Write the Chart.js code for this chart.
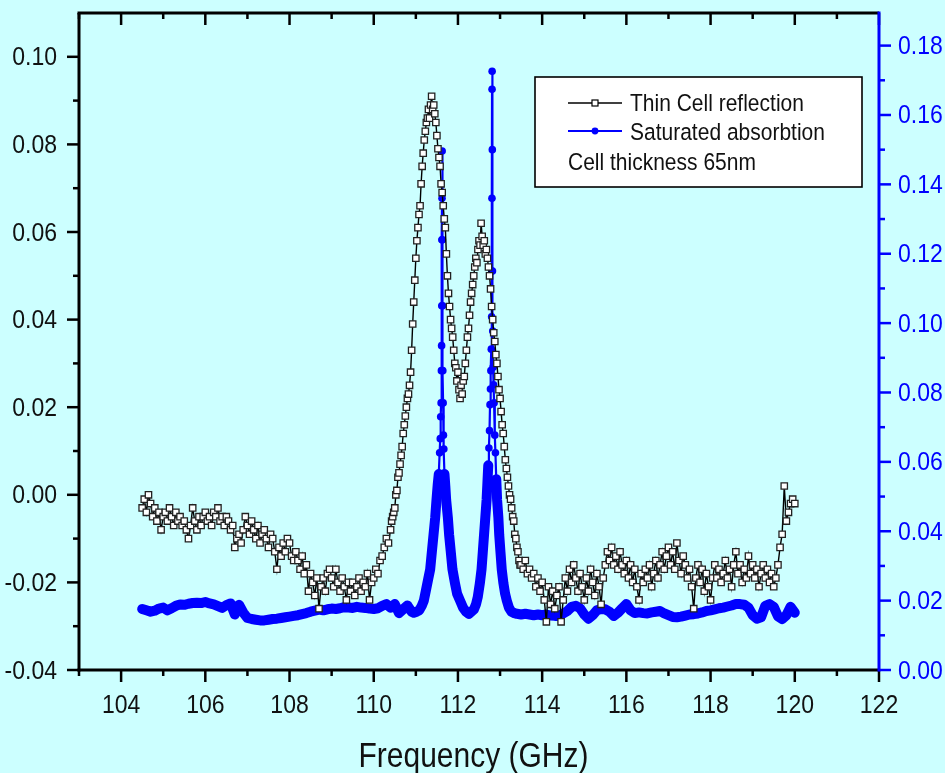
<!DOCTYPE html>
<html>
<head>
<meta charset="utf-8">
<script src="https://cdn.jsdelivr.net/npm/chart.js@4.4.1/dist/chart.umd.min.js"></script>
<style>
  html, body { margin: 0; padding: 0; background: #ccffff; }
  canvas { display: block; }
</style>
</head>
<body>
<canvas id="chart" width="945" height="773"></canvas>
<script>
// Thin cell reflection (left axis)
const reflFreq = [
  104.50,104.55,104.60,104.65,104.70,104.75,104.80,104.85,104.90,104.95,
  105.00,105.05,105.10,105.15,105.20,105.25,105.30,105.35,105.40,105.45,
  105.50,105.55,105.60,105.65,105.70,105.75,105.80,105.85,105.90,105.95,
  106.00,106.05,106.10,106.15,106.20,106.25,106.30,106.35,106.40,106.45,
  106.50,106.55,106.60,106.65,106.70,106.75,106.80,106.85,106.90,106.95,
  107.00,107.05,107.10,107.15,107.20,107.25,107.30,107.35,107.40,107.45,
  107.50,107.55,107.60,107.65,107.70,107.75,107.80,107.85,107.90,107.95,
  108.00,108.05,108.10,108.15,108.20,108.25,108.30,108.35,108.40,108.45,
  108.50,108.55,108.60,108.65,108.70,108.75,108.80,108.85,108.90,108.95,
  109.00,109.05,109.10,109.15,109.20,109.25,109.30,109.35,109.40,109.45,
  109.50,109.55,109.60,109.65,109.70,109.75,109.80,109.85,109.90,109.95,
  110.00,110.05,110.10,110.15,110.20,110.25,110.30,110.35,
  110.400,110.425,110.450,110.475,110.500,110.525,110.550,110.575,110.600,110.625,
  110.650,110.675,110.700,110.725,110.750,110.775,110.800,110.825,110.850,110.875,
  110.900,110.925,110.950,110.975,111.000,111.025,111.050,111.075,111.100,111.125,
  111.150,111.175,111.200,111.225,111.250,111.275,111.300,111.325,111.350,111.375,
  111.400,111.425,111.450,111.475,111.500,111.525,111.550,111.575,111.600,111.625,
  111.650,111.675,111.700,111.725,111.750,111.775,111.800,111.825,111.850,111.875,
  111.900,111.925,111.950,111.975,112.000,112.025,112.050,112.075,112.100,112.125,
  112.150,112.175,112.200,112.225,112.250,112.275,112.300,112.325,112.350,112.375,
  112.400,112.425,112.450,112.475,112.500,112.525,112.550,112.575,112.600,112.625,
  112.650,112.675,112.700,112.725,112.750,112.775,112.800,112.825,112.850,112.875,
  112.900,112.925,112.950,112.975,113.000,113.025,113.050,113.075,113.100,113.125,
  113.150,113.175,113.200,113.225,113.250,113.275,113.300,113.325,113.350,113.375,
  113.400,113.425,113.450,113.475,
  113.50,113.55,113.60,113.65,113.70,113.75,113.80,113.85,113.90,113.95,
  114.00,114.05,114.10,114.15,114.20,114.25,114.30,114.35,114.40,114.45,
  114.50,114.55,114.60,114.65,114.70,114.75,114.80,114.85,114.90,114.95,
  115.00,115.05,115.10,115.15,115.20,115.25,115.30,115.35,115.40,115.45,
  115.50,115.55,115.60,115.65,115.70,115.75,115.80,115.85,115.90,115.95,
  116.00,116.05,116.10,116.15,116.20,116.25,116.30,116.35,116.40,116.45,
  116.50,116.55,116.60,116.65,116.70,116.75,116.80,116.85,116.90,116.95,
  117.00,117.05,117.10,117.15,117.20,117.25,117.30,117.35,117.40,117.45,
  117.50,117.55,117.60,117.65,117.70,117.75,117.80,117.85,117.90,117.95,
  118.00,118.05,118.10,118.15,118.20,118.25,118.30,118.35,118.40,118.45,
  118.50,118.55,118.60,118.65,118.70,118.75,118.80,118.85,118.90,118.95,
  119.00,119.05,119.10,119.15,119.20,119.25,119.30,119.35,119.40,119.45,
  119.50,119.55,119.60,119.65,119.70,119.75,119.80,119.85,119.90,119.95,
  120.00
];
const reflValue = [
  -0.003,-0.001,-0.004,0.000,-0.002,-0.005,-0.003,-0.006,-0.004,-0.008,
  -0.005,-0.004,-0.006,-0.003,-0.005,-0.007,-0.004,-0.006,-0.005,-0.007,
  -0.006,-0.008,-0.010,-0.007,-0.003,-0.006,-0.008,-0.005,-0.007,-0.005,
  -0.004,-0.006,-0.005,-0.007,-0.004,-0.005,-0.003,-0.006,-0.005,-0.007,
  -0.005,-0.006,-0.008,-0.007,-0.012,-0.010,-0.009,-0.011,-0.008,-0.005,
  -0.007,-0.009,-0.006,-0.008,-0.010,-0.007,-0.011,-0.009,-0.008,-0.010,
  -0.012,-0.009,-0.010,-0.013,-0.017,-0.012,-0.014,-0.011,-0.013,-0.010,
  -0.011,-0.014,-0.015,-0.013,-0.015,-0.017,-0.014,-0.018,-0.016,-0.022,
  -0.018,-0.020,-0.023,-0.019,-0.026,-0.021,-0.019,-0.022,-0.018,-0.017,
  -0.019,-0.021,-0.017,-0.020,-0.022,-0.019,-0.021,-0.024,-0.020,-0.022,
  -0.020,-0.023,-0.021,-0.019,-0.022,-0.020,-0.021,-0.018,-0.024,-0.020,
  -0.019,-0.017,-0.018,-0.015,-0.014,-0.012,-0.010,-0.011,
  -0.008,-0.006,-0.005,-0.004,-0.003,0.000,0.001,0.004,0.005,0.007,
  0.009,0.011,0.014,0.016,0.018,0.020,0.022,0.023,0.025,0.028,
  0.033,0.039,0.044,0.049,0.054,0.058,0.061,0.064,0.066,0.071,
  0.075,0.078,0.081,0.083,0.085,0.086,0.088,0.086,0.089,0.091,
  0.088,0.089,0.087,0.085,0.082,0.079,0.077,0.075,0.071,0.069,
  0.066,0.063,0.061,0.055,0.050,0.046,0.043,0.040,0.038,0.036,
  0.033,0.030,0.029,0.026,0.028,0.024,0.022,0.025,0.023,0.026,
  0.027,0.030,0.033,0.036,0.038,0.041,0.044,0.046,0.048,0.050,
  0.052,0.054,0.053,0.056,0.058,0.057,0.062,0.059,0.057,0.058,
  0.055,0.056,0.054,0.052,0.050,0.047,0.043,0.040,0.037,0.035,
  0.032,0.030,0.027,0.024,0.022,0.019,0.016,0.014,0.011,0.008,
  0.006,0.004,0.002,0.000,-0.001,-0.003,-0.005,-0.006,-0.009,-0.010,
  -0.012,-0.013,-0.015,-0.016,
  -0.016,-0.017,-0.015,-0.018,-0.017,-0.019,-0.018,-0.021,-0.019,-0.022,
  -0.020,-0.024,-0.029,-0.021,-0.025,-0.022,-0.026,-0.023,-0.021,-0.029,
  -0.024,-0.019,-0.022,-0.017,-0.020,-0.016,-0.019,-0.022,-0.018,-0.021,
  -0.024,-0.019,-0.022,-0.017,-0.020,-0.023,-0.018,-0.021,-0.025,-0.019,
  -0.016,-0.013,-0.015,-0.012,-0.016,-0.014,-0.017,-0.013,-0.016,-0.018,
  -0.015,-0.019,-0.016,-0.020,-0.017,-0.021,-0.024,-0.018,-0.020,-0.017,
  -0.019,-0.016,-0.021,-0.018,-0.015,-0.019,-0.016,-0.013,-0.017,-0.014,
  -0.012,-0.016,-0.013,-0.017,-0.011,-0.015,-0.018,-0.014,-0.016,-0.019,
  -0.017,-0.021,-0.026,-0.019,-0.016,-0.020,-0.017,-0.022,-0.018,-0.021,
  -0.024,-0.019,-0.016,-0.019,-0.017,-0.020,-0.018,-0.015,-0.019,-0.017,
  -0.021,-0.016,-0.013,-0.018,-0.016,-0.020,-0.017,-0.019,-0.014,-0.018,
  -0.016,-0.019,-0.017,-0.021,-0.018,-0.016,-0.019,-0.017,-0.020,-0.018,
  -0.021,-0.019,-0.016,-0.012,-0.009,0.002,-0.006,-0.004,-0.002,-0.001,
  -0.002
];

// Saturated absorption (right axis)
const absFreq = [
  104.5,104.6,104.7,104.8,104.9,105.0,105.1,105.2,105.3,105.4,
  105.5,105.6,105.7,105.8,105.9,106.0,106.1,106.2,106.3,106.4,
  106.5,106.6,106.7,106.8,106.9,107.0,107.1,107.2,107.3,107.4,
  107.5,107.6,107.7,107.8,107.9,108.0,108.1,108.2,108.3,108.4,
  108.5,108.6,108.7,108.8,108.9,109.0,109.1,109.2,109.3,109.4,
  109.5,109.6,109.7,109.8,109.9,110.0,110.1,110.2,110.3,110.4,
  110.5,110.6,110.7,110.8,110.9,
  110.95,111.02,111.08,111.14,111.19,111.24,111.29,111.34,111.38,111.42,
  111.46,111.49,111.52,111.545,111.565,111.58,111.59,111.60,111.607,111.612,
  111.616,111.619,111.622,111.625,111.630,111.635,111.640,111.648,111.655,111.665,
  111.68,111.70,111.72,111.76,111.79,111.83,111.87,111.93,111.98,112.05,
  112.12,112.19,112.26,112.32,
  112.38,112.43,112.47,112.52,112.56,112.59,112.62,112.65,112.68,112.70,
  112.72,112.735,112.75,112.762,112.772,112.782,112.792,112.800,112.805,112.808,
  112.810,112.812,112.816,112.820,112.826,112.836,112.846,112.858,112.875,112.89,
  112.91,112.93,112.96,112.98,113.01,113.04,113.08,113.12,113.16,113.21,
  113.27,113.34,
  113.4,113.5,113.6,113.7,113.8,113.9,114.0,114.1,114.2,114.3,
  114.4,114.5,114.6,114.7,114.8,114.9,115.0,115.1,115.2,115.3,
  115.4,115.5,115.6,115.7,115.8,115.9,116.0,116.1,116.2,116.3,
  116.4,116.5,116.6,116.7,116.8,116.9,117.0,117.1,117.2,117.3,
  117.4,117.5,117.6,117.7,117.8,117.9,118.0,118.1,118.2,118.3,
  118.4,118.5,118.6,118.7,118.8,118.9,119.0,119.1,119.2,119.3,
  119.4,119.5,119.6,119.7,119.8,119.9,120.0
];
const absValue = [
  0.0176,0.0172,0.0168,0.0171,0.0177,0.0180,0.0172,0.0178,0.0185,0.0189,
  0.0188,0.0191,0.0193,0.0194,0.0193,0.0196,0.0192,0.0189,0.0184,0.0179,
  0.0187,0.0192,0.0160,0.0188,0.0166,0.0150,0.0147,0.0145,0.0143,0.0143,
  0.0145,0.0147,0.0148,0.0150,0.0152,0.0154,0.0156,0.0158,0.0161,0.0164,
  0.0168,0.0171,0.0174,0.0172,0.0175,0.0177,0.0176,0.0178,0.0181,0.0180,
  0.0179,0.0182,0.0180,0.0179,0.0177,0.0176,0.0178,0.0185,0.0190,0.0180,
  0.0190,0.0164,0.0175,0.0186,0.0168,
  0.0165,0.0168,0.0172,0.0185,0.0200,0.0230,0.0260,0.0290,0.0340,0.0390,
  0.0440,0.0490,0.0535,0.0565,0.0626,0.0667,0.0730,0.0770,0.0863,0.0935,
  0.1050,0.1240,0.1360,0.1496,0.1240,0.1050,0.0863,0.0770,0.0677,0.0637,
  0.0565,0.0530,0.0490,0.0440,0.0390,0.0340,0.0290,0.0250,0.0220,0.0200,
  0.0180,0.0168,0.0162,0.0168,
  0.0175,0.0190,0.0210,0.0250,0.0290,0.0340,0.0390,0.0440,0.0490,0.0540,
  0.0590,0.0640,0.0690,0.0765,0.0810,0.0863,0.0925,0.1018,0.1150,0.1360,
  0.1674,0.1726,0.1500,0.1150,0.0977,0.0873,0.0822,0.0770,0.0677,0.0626,
  0.0550,0.0490,0.0440,0.0390,0.0340,0.0290,0.0250,0.0220,0.0200,0.0180,
  0.0168,0.0164,
  0.0162,0.0160,0.0162,0.0160,0.0158,0.0160,0.0158,0.0160,0.0157,0.0156,
  0.0156,0.0163,0.0170,0.0182,0.0185,0.0178,0.0160,0.0148,0.0158,0.0172,
  0.0176,0.0175,0.0168,0.0156,0.0165,0.0178,0.0190,0.0172,0.0164,0.0166,
  0.0164,0.0163,0.0166,0.0168,0.0170,0.0163,0.0158,0.0153,0.0152,0.0154,
  0.0157,0.0160,0.0161,0.0163,0.0166,0.0170,0.0172,0.0175,0.0178,0.0180,
  0.0183,0.0186,0.0190,0.0190,0.0188,0.0180,0.0158,0.0148,0.0152,0.0185,
  0.0190,0.0182,0.0155,0.0147,0.0158,0.0182,0.0165
];

// axes
const xMajorTicks = [104, 106, 108, 110, 112, 114, 116, 118, 120, 122];
const xMinorTicks = [103, 105, 107, 109, 111, 113, 115, 117, 119, 121];
const xTickLabels = ['104', '106', '108', '110', '112', '114', '116', '118', '120', '122'];
const leftMajorTicks = [-0.04, -0.02, 0, 0.02, 0.04, 0.06, 0.08, 0.10];
const leftMinorTicks = [-0.03, -0.01, 0.01, 0.03, 0.05, 0.07, 0.09];
const leftTickLabels = ['-0.04', '-0.02', '0.00', '0.02', '0.04', '0.06', '0.08', '0.10'];
const rightMajorTicks = [0, 0.02, 0.04, 0.06, 0.08, 0.10, 0.12, 0.14, 0.16, 0.18];
const rightMinorTicks = [0.01, 0.03, 0.05, 0.07, 0.09, 0.11, 0.13, 0.15, 0.17];
const rightTickLabels = ['0.00', '0.02', '0.04', '0.06', '0.08', '0.10', '0.12', '0.14', '0.16', '0.18'];

const BG = '#ccffff';
const BLUE = '#0000ff';
const INK = '#111111';
const FONT = "'Liberation Sans', Arial, Helvetica, sans-serif";

// text slightly stretched vertically like the original export
function drawText(ctx, text, x, y, size, color, align, sy) {
  ctx.save();
  ctx.font = size + 'px ' + FONT;
  ctx.fillStyle = color;
  ctx.textAlign = align;
  ctx.textBaseline = 'alphabetic';
  ctx.translate(x, y);
  ctx.scale(1, sy);
  ctx.fillText(text, 0, 0);
  ctx.restore();
}

function line(ctx, x1, y1, x2, y2, color, w) {
  ctx.strokeStyle = color;
  ctx.lineWidth = w;
  ctx.beginPath();
  ctx.moveTo(x1, y1);
  ctx.lineTo(x2, y2);
  ctx.stroke();
}

const bgPlugin = {
  id: 'bg',
  beforeDraw(chart) {
    const ctx = chart.ctx;
    ctx.save();
    ctx.fillStyle = BG;
    ctx.fillRect(0, 0, chart.width, chart.height);
    ctx.restore();
  }
};

const framePlugin = {
  id: 'frame',
  afterDraw(chart) {
    const ctx = chart.ctx;
    const a = chart.chartArea;
    const sx = chart.scales.x, sl = chart.scales.y, sr = chart.scales.y2;
    ctx.save();
    ctx.lineCap = 'butt';

    // x ticks, bottom outward and top inward
    xMajorTicks.forEach((v, i) => {
      const px = sx.getPixelForValue(v);
      line(ctx, px, a.bottom, px, a.bottom + 12, '#000', 2.5);
      line(ctx, px, a.top, px, a.top + 12, '#000', 2.5);
      drawText(ctx, xTickLabels[i], px, 713, 23, INK, 'center', 1.1);
    });
    xMinorTicks.forEach(v => {
      const px = sx.getPixelForValue(v);
      line(ctx, px, a.bottom, px, a.bottom + 6, '#000', 2.5);
      line(ctx, px, a.top, px, a.top + 6, '#000', 2.5);
    });

    // left axis
    leftMajorTicks.forEach((v, i) => {
      const py = sl.getPixelForValue(v);
      line(ctx, a.left - 12, py, a.left, py, '#000', 2.5);
      drawText(ctx, leftTickLabels[i], 57, py + 8.5, 23, INK, 'right', 1.1);
    });
    leftMinorTicks.forEach(v => {
      const py = sl.getPixelForValue(v);
      line(ctx, a.left - 6, py, a.left, py, '#000', 2.5);
    });

    // right axis
    rightMajorTicks.forEach((v, i) => {
      const py = sr.getPixelForValue(v);
      line(ctx, a.right, py, a.right + 12, py, BLUE, 2.5);
      drawText(ctx, rightTickLabels[i], 898, py + 8.5, 23, BLUE, 'left', 1.1);
    });
    rightMinorTicks.forEach(v => {
      const py = sr.getPixelForValue(v);
      line(ctx, a.right, py, a.right + 6, py, BLUE, 2.5);
    });

    // frame
    line(ctx, a.left - 1.5, a.top, a.right, a.top, '#000', 3);
    line(ctx, a.left - 1.5, a.bottom, a.right, a.bottom, '#000', 3);
    line(ctx, a.left, a.top, a.left, a.bottom + 1.5, '#000', 3);
    line(ctx, a.right, a.top - 1.5, a.right, a.bottom + 1.5, BLUE, 3);

    drawText(ctx, 'Frequency (GHz)', 473.5, 766.5, 30, INK, 'center', 1.15);
    ctx.restore();
  }
};

const legendPlugin = {
  id: 'boxLegend',
  afterDraw(chart) {
    const ctx = chart.ctx;
    ctx.save();
    ctx.fillStyle = '#ffffff';
    ctx.fillRect(535, 77, 327, 110);
    ctx.strokeStyle = '#000';
    ctx.lineWidth = 1.6;
    ctx.strokeRect(535, 77, 327, 110);

    // Thin Cell reflection
    line(ctx, 568, 103, 622, 103, '#000', 1.4);
    ctx.fillStyle = '#fff';
    ctx.fillRect(592, 100, 6, 6);
    ctx.lineWidth = 1.2;
    ctx.strokeRect(592, 100, 6, 6);
    drawText(ctx, 'Thin Cell reflection', 630, 111, 21, INK, 'left', 1.1);

    // Saturated absorbtion
    line(ctx, 568, 131, 622, 131, BLUE, 1.8);
    ctx.fillStyle = BLUE;
    ctx.beginPath();
    ctx.arc(595, 131, 3.4, 0, Math.PI * 2);
    ctx.fill();
    drawText(ctx, 'Saturated absorbtion', 630, 139.5, 21, INK, 'left', 1.1);

    drawText(ctx, 'Cell thickness 65nm', 568, 169.5, 21, INK, 'left', 1.1);
    ctx.restore();
  }
};

const reflData = reflFreq.map((f, i) => ({ x: f, y: reflValue[i] }));
const absData = absFreq.map((f, i) => ({ x: f, y: absValue[i] }));

new Chart(document.getElementById('chart'), {
  type: 'line',
  data: {
    datasets: [
      {
        label: 'Thin Cell reflection',
        data: reflData,
        yAxisID: 'y',
        borderColor: '#000000',
        borderWidth: 1.4,
        pointStyle: 'rect',
        pointRadius: 4.5,
        pointBackgroundColor: '#ffffff',
        pointBorderColor: '#222222',
        pointBorderWidth: 1.3,
        tension: 0
      },
      {
        label: 'Saturated absorbtion',
        data: absData,
        yAxisID: 'y2',
        borderColor: BLUE,
        borderWidth: 2.2,
        borderCapStyle: 'round',
        borderJoinStyle: 'round',
        pointStyle: 'circle',
        pointRadius: 3.8,
        pointBackgroundColor: BLUE,
        pointBorderWidth: 0,
        tension: 0,
        segment: {
          // dense dots merge into a thick band near the baseline
          borderWidth: ctx => (ctx.p0.parsed.y < 0.062 && ctx.p1.parsed.y < 0.062) ? 10 : 2.2
        }
      }
    ]
  },
  options: {
    responsive: false,
    devicePixelRatio: 1,
    animation: false,
    layout: { padding: { top: 13, left: 0, right: 0, bottom: 0 } },
    plugins: {
      legend: { display: false },
      tooltip: { enabled: false }
    },
    scales: {
      x: {
        type: 'linear',
        position: 'bottom',
        min: 103,
        max: 122,
        grid: { display: false },
        border: { display: false },
        ticks: { display: false },
        afterFit(scale) { scale.height = 103; }
      },
      y: {
        type: 'linear',
        position: 'left',
        min: -0.04,
        max: 0.11,
        grid: { display: false },
        border: { display: false },
        ticks: { display: false },
        afterFit(scale) { scale.width = 79; }
      },
      y2: {
        type: 'linear',
        position: 'right',
        min: 0,
        max: 0.1894,
        grid: { display: false },
        border: { display: false },
        ticks: { display: false },
        afterFit(scale) { scale.width = 66; }
      }
    }
  },
  plugins: [bgPlugin, framePlugin, legendPlugin]
});
</script>
</body>
</html>
